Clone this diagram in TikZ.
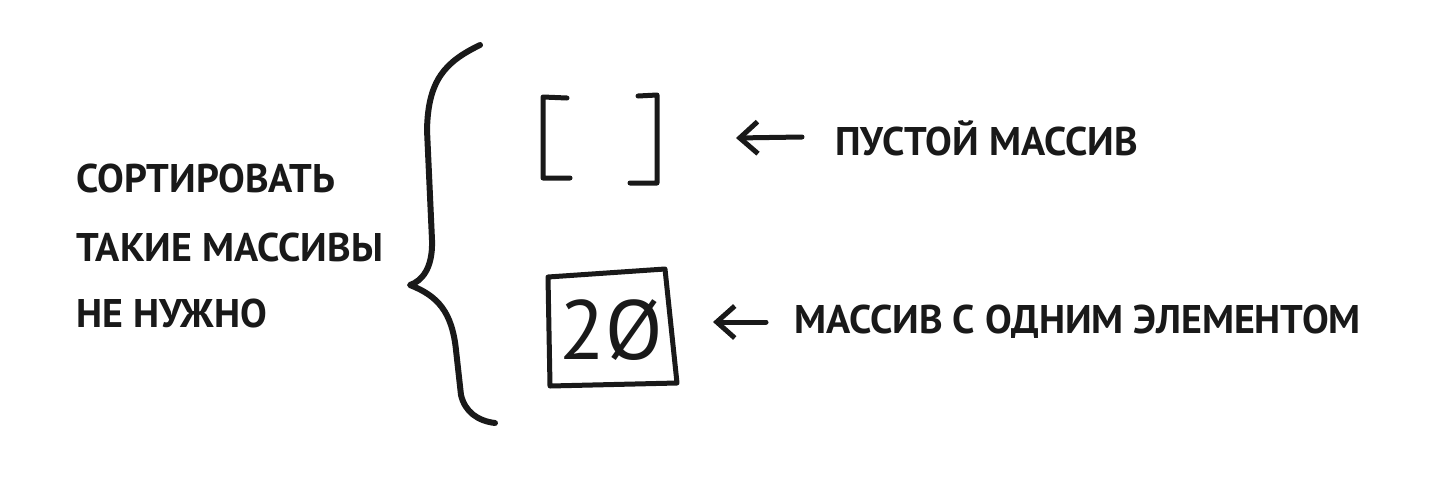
\documentclass[tikz,border=0pt]{standalone}
\usepackage{fontspec}
\setmainfont{PT Sans}
\usetikzlibrary{arrows.meta}

\begin{document}
\begin{tikzpicture}[x=1pt,y=-1pt,>={Straight Barb[length=18pt,width=32pt]},line cap=round,line join=round]
\path[fill=white] (0,0) rectangle (1442,480);
\tikzset{ink/.style={draw=black!90,line width=5pt},label/.style={anchor=west,inner sep=0pt,text=black!90,font=\bfseries\fontsize{40}{44}\selectfont},pointer/.style={ink,<-}}
% left note
\node[label] (sortA) at (76,178) {СОРТИРОВАТЬ};
\node[label] (sortB) at (76,247) {ТАКИЕ МАССИВЫ};
\node[label] (sortC) at (76,313) {НЕ НУЖНО};
% curly brace
\draw[ink,line width=6pt] (480,45) .. controls (445,62) and (428,80) .. (427,130) -- (432,240) .. controls (433,268) and (422,281) .. (410,285) .. controls (438,296) and (452,312) .. (456,350) -- (461,395) .. controls (465,412) and (478,421) .. (495,423);
% empty array
\draw[ink] (567,98) -- (543,97) -- (543,178) -- (570,178);
\draw[ink] (638,96) -- (657,95) -- (657,183) -- (630,183);
% array with one item
\node[inner sep=0pt,text=black!90,font=\fontsize{84}{90}\selectfont] (oneItem) at (611,330) {2Ø};
\draw[ink] (548,277) -- (665,269) -- (677,383) -- (550,386) -- cycle;
% pointers
\coordinate (emptyTip) at (736,138);
\coordinate (emptyTail) at (802,137);
\node[label] (emptyLabel) at (835,138) {ПУСТОЙ МАССИВ};
\draw[pointer] (emptyTip) -- (emptyTail);
\coordinate (oneTip) at (713,322);
\coordinate (oneTail) at (766,322);
\node[label] (oneLabel) at (794,322) {МАССИВ С ОДНИМ ЭЛЕМЕНТОМ};
\draw[pointer] (oneTip) -- (oneTail);
\end{tikzpicture}
\end{document}
